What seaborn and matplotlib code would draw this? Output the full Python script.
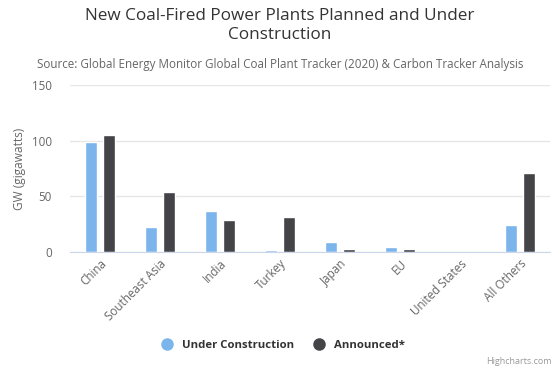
import numpy as np
import pandas as pd
import seaborn as sns
import matplotlib.pyplot as plt
from matplotlib.lines import Line2D

regions = ["China", "Southeast Asia", "India", "Turkey", "Japan", "EU",
           "United States", "All Others"]
under_construction = [98.5, 22.2, 36.5, 1.5, 9.0, 4.8, 0.0, 24.0]
announced = [105.1, 53.9, 28.7, 31.4, 2.4, 2.4, 0.0, 70.7]
series_names = ["Under Construction", "Announced*"]
colors = ["#7cb5ec", "#434348"]

df = pd.DataFrame({
    "region": regions * 2,
    "series": [series_names[0]] * len(regions) + [series_names[1]] * len(regions),
    "gw": under_construction + announced,
})

sns.set_style("white")
plt.rcParams["font.family"] = ["Open Sans", "DejaVu Sans"]

fig = plt.figure(figsize=(5.6, 3.73), dpi=100)
ax = fig.add_axes([0.125, 0.324, 0.857, 0.448])

sns.barplot(data=df, x="region", y="gw", hue="series", palette=colors,
            width=0.6, gap=0.34, ax=ax, legend=False, saturation=1)

ax.set_ylim(0, 150)
ax.set_yticks([0, 50, 100, 150])
ax.set_xlim(-0.5, len(regions) - 0.5)
ax.grid(axis="y", color="#e6e6e6", linewidth=1)
ax.set_axisbelow(True)
for s in ["top", "right", "left"]:
    ax.spines[s].set_visible(False)
ax.spines["bottom"].set_color("#ccd6eb")
ax.tick_params(axis="both", length=0, colors="#666666", labelsize=8.4)
ax.tick_params(axis="y", pad=13)
ax.set_yticklabels(["0", "50", "100", "150"], ha="right")
ax.set_xticks(range(len(regions)))
ax.set_xticklabels(regions, rotation=45, ha="right", rotation_mode="anchor")
ax.set_xlabel("")
ax.set_ylabel("GW (gigawatts)", color="#666666", fontsize=8.6, labelpad=4)

fig.text(0.5, 0.978, "New Coal-Fired Power Plants Planned and Under\nConstruction",
         ha="center", va="top", fontsize=12.3, color="#333333", linespacing=1.2)
fig.text(0.5, 0.826, "Source: Global Energy Monitor Global Coal Plant Tracker (2020) & Carbon Tracker Analysis",
         ha="center", va="center", fontsize=8.4, color="#666666")

handles = [Line2D([0], [0], marker="o", linestyle="", markersize=8,
                  markerfacecolor=c, markeredgecolor=c) for c in colors]
fig.legend(handles, series_names, loc="center", bbox_to_anchor=(0.5, 0.075),
           ncol=2, frameon=False, handletextpad=0.3, columnspacing=1.2,
           prop={"weight": "bold", "size": 8.2}, labelcolor="#333333")

fig.text(0.985, 0.02, "Highcharts.com", ha="right", va="bottom",
         fontsize=6.5, color="#999999")

fig.savefig("out.png", dpi=100)
